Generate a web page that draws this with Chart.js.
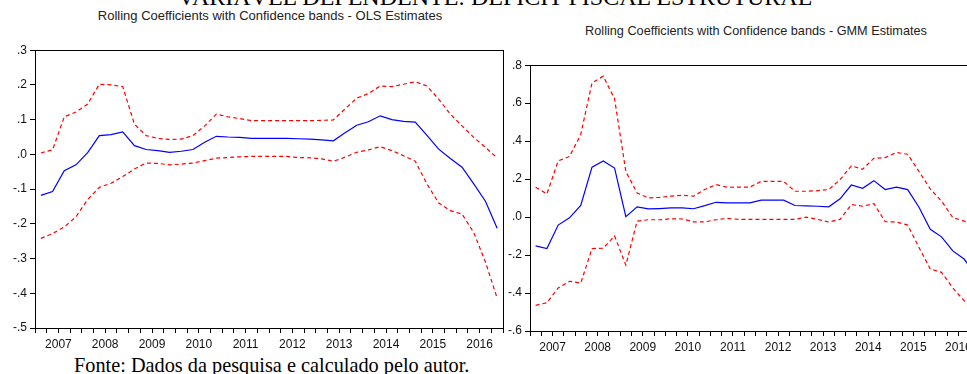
<!DOCTYPE html>
<html>
<head>
<meta charset="utf-8">
<script src="https://cdn.jsdelivr.net/npm/chart.js@4.4.1/dist/chart.umd.min.js"></script>
<style>
    html, body { margin: 0; padding: 0; background: #fff; overflow: hidden; }
    body { width: 967px; height: 374px; position: relative; }
    canvas { position: absolute; }
    .txt { position: absolute; white-space: nowrap; color: #000; }
    .serif { font-family: 'Liberation Serif', 'Times New Roman', serif; }
    .sans { font-family: 'Liberation Sans', Arial, sans-serif; color: #222; }
</style>
</head>
<body>

<div class="txt serif" style="left:0; width:990px; text-align:center; top:-15px; font-size:24px; line-height:24px;">VARIÁVEL DEPENDENTE: DÉFICIT FISCAL ESTRUTURAL</div>
<div class="txt sans" style="left:0; width:540px; text-align:center; top:8px; font-size:13px;">Rolling Coefficients with Confidence bands - OLS Estimates</div>
<div class="txt sans" style="left:516px; width:480px; text-align:center; top:24px; font-size:12.7px;">Rolling Coefficients with Confidence bands - GMM Estimates</div>
<div class="txt serif" style="left:74px; top:354px; font-size:20.3px; line-height:22px;">Fonte: Dados da pesquisa e calculado pelo autor.</div>

<canvas id="ols-chart" width="510" height="320" style="left:0; top:40px;"></canvas>
<canvas id="gmm-chart" width="500" height="308" style="left:490px; top:55px;"></canvas>

<script>
// ===== Dados (trimestrais, 2007Q1 - 2016Q4) =====
const years = ['2007', '2008', '2009', '2010', '2011', '2012', '2013', '2014', '2015', '2016'];

// OLS
const olsCoef = [-0.118, -0.107, -0.047, -0.030, 0.005, 0.054, 0.057, 0.065, 0.025, 0.014,
    0.011, 0.006, 0.009, 0.014, 0.035, 0.052, 0.050, 0.049, 0.046, 0.046,
    0.046, 0.046, 0.045, 0.044, 0.042, 0.039, 0.062, 0.084, 0.094, 0.111,
    0.100, 0.095, 0.093, 0.055, 0.015, -0.012, -0.037, -0.085, -0.135, -0.213];
const olsUpper = [0.004, 0.013, 0.108, 0.122, 0.145, 0.202, 0.200, 0.195, 0.087, 0.054,
    0.046, 0.043, 0.044, 0.054, 0.082, 0.116, 0.108, 0.103, 0.097, 0.097,
    0.097, 0.097, 0.097, 0.097, 0.098, 0.099, 0.131, 0.162, 0.175, 0.197,
    0.195, 0.202, 0.209, 0.197, 0.159, 0.116, 0.082, 0.049, 0.020, -0.010];
const olsLower = [-0.242, -0.228, -0.209, -0.180, -0.130, -0.095, -0.083, -0.064, -0.042, -0.025,
    -0.026, -0.030, -0.028, -0.025, -0.018, -0.011, -0.009, -0.007, -0.006, -0.006,
    -0.006, -0.006, -0.009, -0.010, -0.013, -0.020, -0.008, 0.006, 0.013, 0.022,
    0.011, -0.004, -0.020, -0.085, -0.140, -0.162, -0.172, -0.225, -0.310, -0.414];

// GMM
const gmmCoef = [-0.152, -0.166, -0.042, -0.004, 0.061, 0.263, 0.296, 0.258, 0.002, 0.054,
    0.043, 0.045, 0.048, 0.049, 0.044, 0.060, 0.078, 0.075, 0.075, 0.075,
    0.089, 0.089, 0.089, 0.061, 0.059, 0.057, 0.054, 0.096, 0.169, 0.152,
    0.192, 0.145, 0.158, 0.145, 0.052, -0.064, -0.104, -0.178, -0.221, -0.300];
const gmmUpper = [0.157, 0.122, 0.296, 0.319, 0.435, 0.707, 0.742, 0.623, 0.240, 0.127,
    0.101, 0.104, 0.110, 0.115, 0.110, 0.145, 0.171, 0.157, 0.158, 0.158,
    0.188, 0.188, 0.188, 0.136, 0.136, 0.139, 0.145, 0.197, 0.270, 0.252,
    0.310, 0.313, 0.340, 0.331, 0.240, 0.148, 0.084, -0.003, -0.021, -0.060];
const gmmLower = [-0.465, -0.451, -0.373, -0.338, -0.348, -0.166, -0.164, -0.099, -0.253, -0.021,
    -0.014, -0.014, -0.009, -0.010, -0.025, -0.025, -0.014, -0.007, -0.012, -0.012,
    -0.012, -0.012, -0.012, -0.012, 0.000, -0.012, -0.026, -0.012, 0.066, 0.057,
    0.071, -0.024, -0.026, -0.042, -0.160, -0.273, -0.291, -0.373, -0.440, -0.500];

// Moldura completa em volta da área do gráfico
const framePlugin = {
    id: 'frame',
    afterDraw(chart) {
        const a = chart.chartArea;
        const ctx = chart.ctx;
        ctx.save();
        ctx.strokeStyle = '#000';
        ctx.lineWidth = 1;
        ctx.strokeRect(Math.round(a.left) + 0.5, Math.round(a.top) + 0.5,
            Math.round(a.right - a.left), Math.round(a.bottom - a.top));
        ctx.restore();
    }
};

function toPoints(values) {
    return values.map((v, i) => ({ x: i, y: v }));
}

function fmtY(v) {
    return (Math.round(v * 10) / 10).toFixed(1).replace('0.', '.');
}

function createRollingChart(canvasId, coef, upper, lower, yMin, yMax, yStep, pad, yWidth) {
    const ctx = document.getElementById(canvasId).getContext('2d');
    const quarterTicks = [];
    for (let k = 0; k <= coef.length; k++) quarterTicks.push(k - 0.5);

    const bandStyle = {
        borderColor: '#ff0000',
        borderWidth: 1.2,
        borderDash: [4, 3],
        pointRadius: 0,
        tension: 0,
        fill: false
    };

    return new Chart(ctx, {
        type: 'line',
        data: {
            datasets: [
                Object.assign({ label: 'upper', data: toPoints(upper) }, bandStyle),
                Object.assign({ label: 'lower', data: toPoints(lower) }, bandStyle),
                {
                    label: 'coef',
                    data: toPoints(coef),
                    borderColor: '#0000ff',
                    borderWidth: 1.2,
                    pointRadius: 0,
                    tension: 0,
                    fill: false
                }
            ]
        },
        options: {
            responsive: false,
            animation: false,
            events: [],
            layout: { padding: pad },
            plugins: {
                legend: { display: false },
                tooltip: { enabled: false }
            },
            scales: {
                x: {
                    type: 'linear',
                    min: -0.5,
                    max: coef.length - 0.5,
                    afterBuildTicks: (scale) => {
                        scale.ticks = quarterTicks.map(v => ({ value: v }));
                    },
                    afterFit: (scale) => { scale.height = 32; },
                    grid: {
                        drawOnChartArea: false,
                        drawTicks: true,
                        tickLength: 5,
                        tickColor: '#000'
                    },
                    border: { display: true, color: '#000', width: 1 },
                    ticks: {
                        autoSkip: false,
                        maxRotation: 0,
                        padding: 4,
                        color: '#111',
                        font: { size: 12, family: 'Liberation Sans' },
                        callback: function(value) {
                            const q = value - 1.5;
                            if (Math.abs(q % 4) < 1e-6) return years[Math.round(q / 4)] || '';
                            return '';
                        }
                    }
                },
                y: {
                    min: yMin,
                    max: yMax,
                    afterFit: (scale) => { scale.width = yWidth; },
                    grid: {
                        drawOnChartArea: false,
                        drawTicks: true,
                        tickLength: 5,
                        tickColor: '#000'
                    },
                    border: { display: true, color: '#000', width: 1 },
                    ticks: {
                        stepSize: yStep,
                        padding: 3,
                        color: '#111',
                        font: { size: 12, family: 'Liberation Sans' },
                        callback: function(value) { return fmtY(value); }
                    }
                }
            }
        },
        plugins: [framePlugin]
    });
}

createRollingChart('ols-chart', olsCoef, olsUpper, olsLower, -0.5, 0.3, 0.1,
    { top: 9, right: 7, left: 0, bottom: 0 }, 35);
createRollingChart('gmm-chart', gmmCoef, gmmUpper, gmmLower, -0.6, 0.8, 0.2,
    { top: 8, right: 9, left: 0, bottom: 0 }, 40);
</script>
</body>
</html>
